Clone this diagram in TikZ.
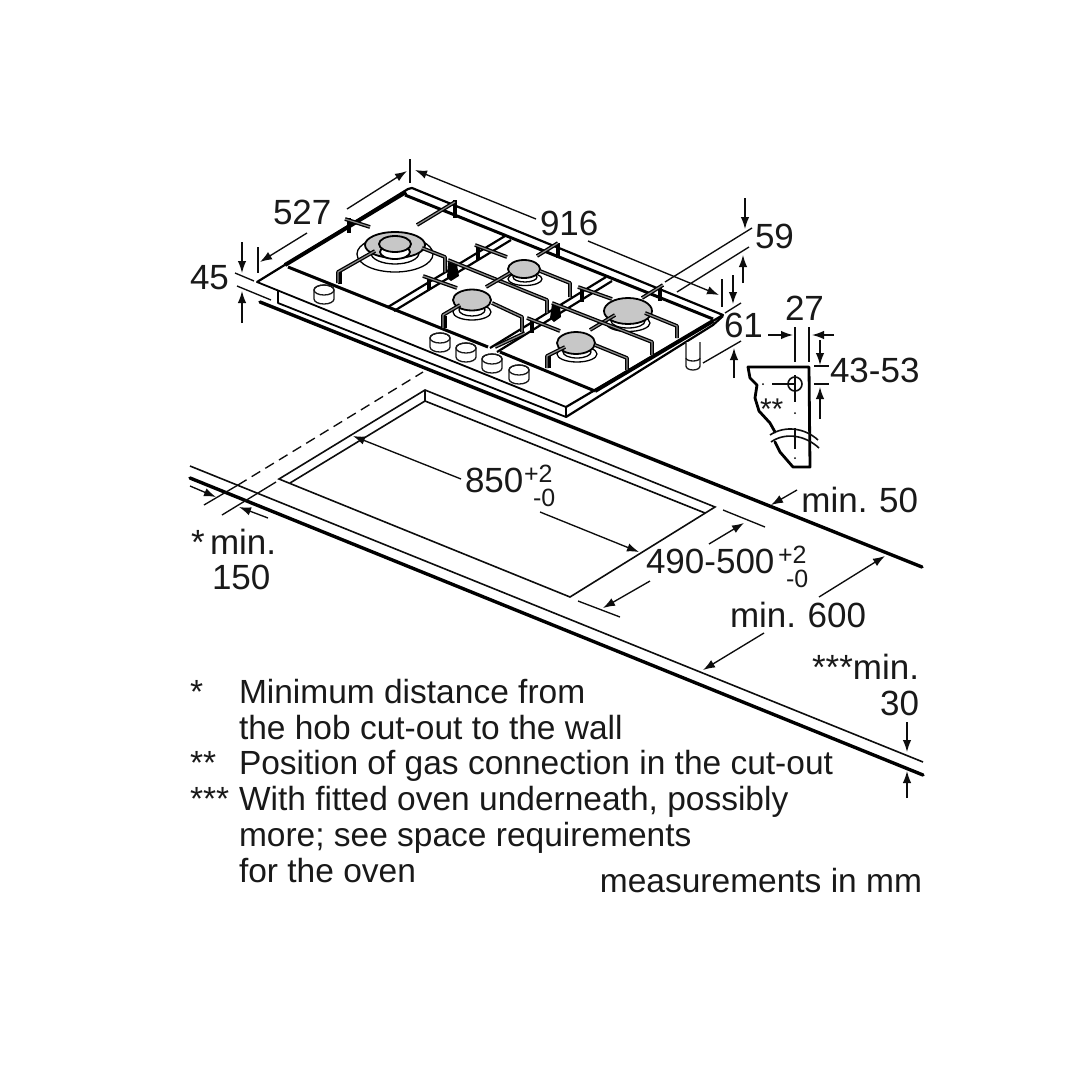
\documentclass[tikz,border=0pt]{standalone}
\usepackage{fontspec}
\setmainfont{Liberation Sans}
\usetikzlibrary{arrows.meta}
\tikzset{
 x=1pt,y=-1pt,
 lbl/.style={anchor=base west,inner sep=0pt,outer sep=0pt,font=\fontsize{35}{38}\selectfont,text=black!90},
 lblr/.style={lbl,anchor=base east},
 legend/.style={lbl,font=\fontsize{33.5}{36}\selectfont},
 legendr/.style={legend,anchor=base east},
 small/.style={lbl,font=\fontsize{25}{27}\selectfont},
 thin line/.style={line width=1.35pt,black!95},
 dimarrow/.style={thin line,-{Latex[length=12pt,width=8.5pt]}},
 thickline/.style={line width=3.4pt,line cap=round,black},
 frame/.style={line width=3pt,black,line join=round},
 burnerfill/.style={fill=black!22,draw=black,line width=1.8pt},
 ring/.style={draw=black,line width=1.3pt,fill=white},
 knob/.style={draw=black!90,line width=1.3pt,fill=white},
}
\newcommand{\rodline}[1]{%
 \draw[line width=3.8pt,black,line join=round] #1;
 \draw[line width=1.2pt,black!45,line join=round] #1;}
\newcommand{\postbar}[2]{\draw[line width=4.6pt,black] #1 -- #2;}
\newcommand{\knobat}[2]{%
 \path[knob] (#1-10,#2-4) -- (#1-10,#2+5) arc[start angle=180,end angle=360,x radius=10,y radius=-5] -- (#1+10,#2-4) arc[start angle=0,end angle=180,x radius=10,y radius=-5] -- cycle;
 \draw[knob,fill=none] (#1,#2-4) ellipse[x radius=10,y radius=5];}
\begin{document}
\begin{tikzpicture}
\useasboundingbox (0,0) rectangle (1080,1080);
\fill[white] (0,0) rectangle (1080,1080);

% counter lines
\draw[thin line,line width=1.6pt] (190,466) -- (923,762);
\draw[thickline] (190,478) -- (923,775);
\draw[thickline] (260,302) -- (922,567);

% cut-out
\draw[thin line,line width=1.6pt,line join=miter] (425,390) -- (279,479) -- (570,597) -- (715,507) -- cycle;
\draw[thin line,line width=1.6pt] (290,483) -- (425,401) -- (705,513);
\draw[thin line] (425,390) -- (425,401);
\draw[thin line,dashed,dash pattern=on 10pt off 6pt] (238,485) -- (423,372);
\draw[thin line] (238,485) -- (204,505);
\draw[thin line] (276,482) -- (222,515);
\draw[dimarrow] (190,486) -- (216,497);
\draw[dimarrow] (268,518) -- (239,507);

% hob body
\fill[white] (257,282) -- (410,188) -- (723,315) -- (566,417) -- (278,303) -- (278,293) -- cycle;
\draw[line width=1.8pt,line join=round] (278,291) -- (278,303) -- (566,417) -- (566,407) -- (257,282);
\draw[line width=2.2pt,line join=round,line cap=round] (257,282) -- (408,189) -- (412,188) -- (723,315) -- (566,407);
\draw[line width=2.2pt] (566,417) -- (713,325) -- (723,316);

% legs
\draw[knob] (686,342) -- (686,366) arc[start angle=180,end angle=360,x radius=7,y radius=-4] -- (700,342);
\draw[knob,fill=none] (686,358) arc[start angle=180,end angle=360,x radius=7,y radius=-3];
% knobs
\knobat{324}{294}
\knobat{440}{342}
\knobat{466}{352}
\knobat{492}{363}
\knobat{519}{374}

% grate frame
\draw[frame,line width=4pt] (285,265) -- (406,192);
\draw[frame] (288,267) -- (488,347);
\draw[frame] (500,352) -- (595,391);
\draw[frame,line width=4pt] (595,391) -- (713,321);
\draw[frame] (405,195) -- (713,319);
% dividers
\draw[frame,line width=2.2pt] (388,307) -- (505,236);
\draw[frame,line width=2.2pt] (394,311) -- (511,240);
\draw[frame,line width=2.2pt] (490,348) -- (606,277);
\draw[frame,line width=2.2pt] (497,352) -- (612,281);
\fill[black] (448,262) -- (457,265) -- (459,276) -- (451,281) -- (447,278) -- cycle;
\fill[black] (552,304) -- (560,307) -- (561,317) -- (554,322) -- (550,318) -- cycle;

% posts
\postbar{(349,218)}{(349,233)}
\postbar{(455,200)}{(455,218)}
\postbar{(340,272)}{(340,284)}
\postbar{(445,258)}{(445,272)}
\postbar{(429,277)}{(429,290)}
\postbar{(478,246)}{(478,260)}
\postbar{(547,300)}{(547,313)}
\postbar{(558,243)}{(558,258)}
\postbar{(582,288)}{(582,302)}
\postbar{(660,286)}{(660,301)}
\postbar{(677,326)}{(677,338)}
\postbar{(652,342)}{(652,355)}
\postbar{(532,319)}{(532,333)}
\postbar{(445,316)}{(445,328)}
\postbar{(522,317)}{(522,332)}
\postbar{(549,356)}{(549,368)}
\postbar{(570,283)}{(570,297)}
\postbar{(627,358)}{(627,370)}

% burner A
\draw[ring] (395,254) ellipse[x radius=38,y radius=18];
\draw[ring] (395,253) ellipse[x radius=24,y radius=11];
\draw[burnerfill] (395,245) ellipse[x radius=30,y radius=13];
\draw[burnerfill,fill=white] (395,252) ellipse[x radius=15,y radius=7];
\draw[burnerfill] (395,244) ellipse[x radius=16,y radius=8];
% burner C
\draw[ring] (525,279) ellipse[x radius=17,y radius=6.5];
\draw[ring] (525,277) ellipse[x radius=12,y radius=5];
\draw[burnerfill] (524,269) ellipse[x radius=16,y radius=9];
% burner B
\draw[ring] (472,312) ellipse[x radius=19,y radius=8];
\draw[ring] (472,310) ellipse[x radius=13,y radius=6];
\draw[burnerfill] (472,300) ellipse[x radius=19,y radius=10.5];
% burner D
\draw[ring] (628,323) ellipse[x radius=22,y radius=8.5];
\draw[ring] (628,321) ellipse[x radius=17,y radius=7];
\draw[burnerfill] (628,311) ellipse[x radius=24,y radius=13];
% burner E
\draw[ring] (577,354) ellipse[x radius=20,y radius=8];
\draw[ring] (577,352) ellipse[x radius=14,y radius=6];
\draw[burnerfill] (576,343) ellipse[x radius=19,y radius=11];

% rods
\rodline{(417,225) -- (455,202)}
\rodline{(345,219) -- (370,227)}
\rodline{(338,283) -- (338,272) -- (375,251)}
\rodline{(422,248) -- (445,257) -- (445,272)}
\rodline{(448,260) -- (547,300) -- (547,313)}
\rodline{(423,276) -- (457,288)}
\rodline{(475,245) -- (507,257)}
\rodline{(486,287) -- (510,273)}
\rodline{(540,271) -- (570,283) -- (570,297)}
\rodline{(578,287) -- (612,299)}
\rodline{(537,256) -- (558,243)}
\rodline{(642,298) -- (663,285)}
\rodline{(590,330) -- (615,315)}
\rodline{(645,313) -- (677,326) -- (677,338)}
\rodline{(552,303) -- (652,342) -- (652,355)}
\rodline{(527,318) -- (560,331)}
\rodline{(443,328) -- (443,315) -- (460,305)}
\rodline{(492,303) -- (522,317) -- (522,332)}
\rodline{(495,347) -- (525,333)}
\rodline{(547,368) -- (547,356) -- (565,347)}
\rodline{(595,345) -- (627,358) -- (627,370)}

% dimension lines: hob
\draw[thin line] (410,159) -- (410,183);
\draw[dimarrow] (536,219) -- (415,170);
\draw[dimarrow] (588,241) -- (719,295);
\draw[thin line] (722,279) -- (722,307);
\draw[dimarrow] (347,209) -- (407,171);
\draw[dimarrow] (307,233) -- (260,262);
\draw[thin line] (258,247) -- (258,273);
\draw[dimarrow] (242,242) -- (242,273);
\draw[thin line] (235,273) -- (254,281);
\draw[thin line] (237,286) -- (271,300);
\draw[dimarrow] (242,323) -- (242,291);
\draw[dimarrow] (745,198) -- (745,229);
\draw[thin line] (752,228) -- (665,282);
\draw[thin line] (749,247) -- (677,292);
\draw[dimarrow] (743,283) -- (743,255);
\draw[dimarrow] (733,275) -- (733,304);
\draw[thin line] (741,303) -- (725,313);
\draw[thin line] (741,341) -- (703,363);
\draw[dimarrow] (734,378) -- (734,348);

% profile detail
\draw[line width=2.8pt,line join=round,line cap=round] (775,432) -- (770,423) -- (759,411) -- (755,398) -- (757,385) -- (750,378) -- (748,367) -- (809,367) -- (810,467) -- (793,467) -- (780,452) -- (775,442);
\draw[thin line,line width=1.6pt] (770,435) .. controls (785,425) and (805,428) .. (818,440);
\draw[thin line,line width=1.6pt] (771,442) .. controls (785,432) and (805,435) .. (819,448);
\draw[thin line] (772,384) -- (795,384);
\draw[thin line,line width=1.6pt] (795,384) circle[radius=7];
\draw[thin line] (795,375) -- (795,402);
\draw[thin line] (795,428) -- (795,449);
\fill (763,384) circle[radius=1];
\fill (795,413) circle[radius=1];
\fill (795,458) circle[radius=1];
\draw[thin line] (795,327) -- (795,362);
\draw[thin line] (809,327) -- (809,362);
\draw[dimarrow] (768,335) -- (793,335);
\draw[dimarrow] (834,335) -- (812,335);
\draw[dimarrow] (820,340) -- (820,365);
\draw[thin line] (814,366) -- (829,366);
\draw[thin line] (814,384) -- (829,384);
\draw[dimarrow] (820,419) -- (820,387);

% cut-out dims
\draw[dimarrow] (461,479) -- (353,436);
\draw[dimarrow] (540,512) -- (639,552);
\draw[thin line] (723,510) -- (765,527);
\draw[dimarrow] (709,544) -- (744,523);
\draw[thin line] (578,601) -- (620,617);
\draw[dimarrow] (650,581) -- (603,608);
\draw[dimarrow] (797,490) -- (771,505);
\draw[dimarrow] (819,597) -- (885,556);
\draw[dimarrow] (764,633) -- (703,670);
\draw[dimarrow] (907,722) -- (907,752);
\draw[dimarrow] (907,798) -- (907,771);

% labels
\node[lbl] (t527) at (273,224) {527};
\node[lbl] (t916) at (540,235) {916};
\node[lbl] (t45) at (190,289) {45};
\node[lbl] (t59) at (755,248) {59};
\node[lbl] (t61) at (724,337) {61};
\node[lbl] (t27) at (785,320) {27};
\node[lbl] (t4353) at (830,382) {43-53};
\node[lbl,font=\fontsize{30}{32}\selectfont] (tstars) at (760,419) {**};
\node[lbl] (t850) at (465,492) {850};
\node[small] (t850a) at (524,482) {+2};
\node[small] (t850b) at (533,506) {-0};
\node[lbl] (t490) at (646,573) {490-500};
\node[small] (t490a) at (778,563) {+2};
\node[small] (t490b) at (786,587) {-0};
\node[lblr] (tm50) at (918,512) {min.\hspace{-1.5pt} 50};
\node[lblr] (tm600) at (866,627) {min.\hspace{-1.5pt} 600};
\node[lblr] (tm30a) at (919,679) {***min.};
\node[lblr] (tm30b) at (919,715) {30};
\node[lbl] (tstar) at (191,554) {*};
\node[lbl] (tmin) at (210,554) {min.};
\node[lbl] (t150) at (212,589) {150};
\node[legend] (k1) at (190,703) {*};
\node[legend] (k2) at (190,774) {**};
\node[legend] (k3) at (190,810) {***};
\node[legend] (l1) at (239,703) {Minimum distance from};
\node[legend] (l2) at (239,739) {the hob cut-out to the wall};
\node[legend] (l3) at (239,774) {Position of gas connection in the cut-out};
\node[legend] (l4) at (239,810) {With fitted oven underneath, possibly};
\node[legend] (l5) at (239,846) {more; see space requirements};
\node[legend] (l6) at (239,882) {for the oven};
\node[legendr] (meas) at (922,892) {measurements in mm};
\end{tikzpicture}
\end{document}
